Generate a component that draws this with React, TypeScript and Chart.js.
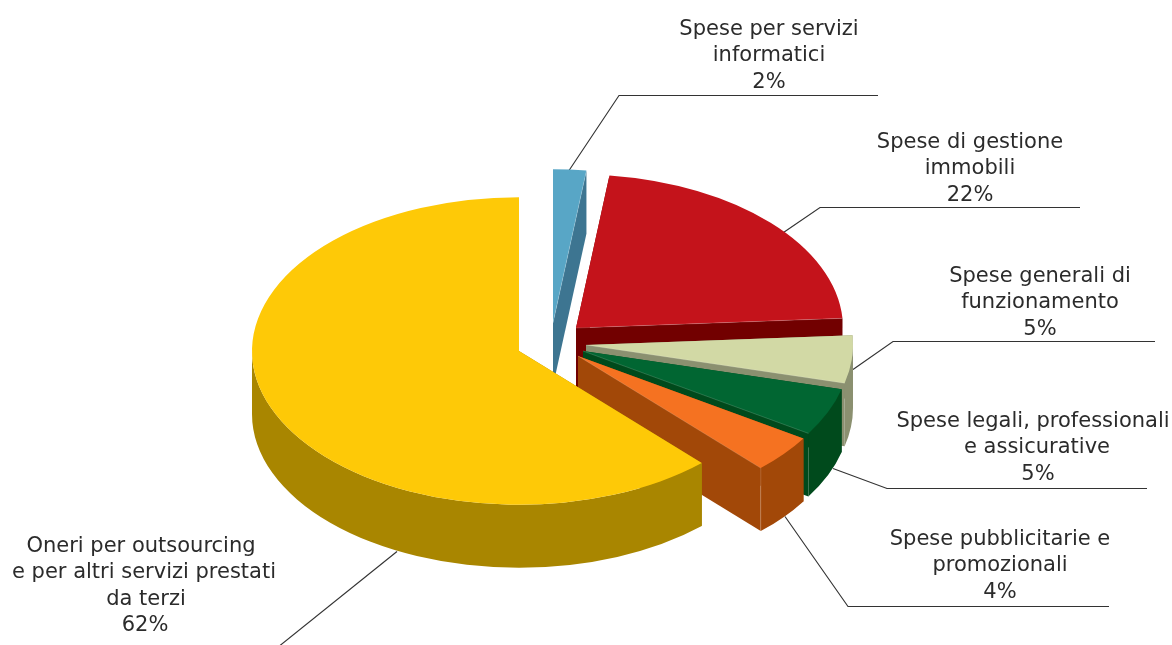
import React, { useEffect, useRef } from "react";
import { Chart, registerables } from "chart.js";

Chart.register(...registerables);

// Cost breakdown, in percent
const sliceValues = [2, 22, 5, 5, 4, 62];
const sliceCaptions = [
  ["Spese per servizi", "informatici"],
  ["Spese di gestione", "immobili"],
  ["Spese generali di", "funzionamento"],
  ["Spese legali, professionali", "e assicurative"],
  ["Spese pubblicitarie e", "promozionali"],
  ["Oneri per outsourcing", "e per altri servizi prestati", "da terzi"],
];
const faceColours = ["#58a6c6", "#c4131b", "#d2d9a5", "#016632", "#f57221", "#fec907"];
const wallColours = ["#3d7591", "#720000", "#8b9070", "#004a1c", "#a24808", "#a98600"];

// Pie geometry: how far each slice is pulled away from the hub, tilt and thickness
const sliceShiftX = [34, 57, 67, 64, 59, 0];
const sliceShiftY = [-28, -23, -6, 0, 5, 0];
const TILT = 0.576;
const DEPTH = 63;

// Caption anchors (centre x, first baseline) and leader polylines
const captionX = [769, 970, 1040, 1033, 1000, 143];
const captionY = [35, 148, 282, 427, 545, 552];
const captionLineNudge = [
  [0, 0, 0],
  [0, 0, 0],
  [0, 0, 0],
  [0, 4, 5],
  [0, 0, 0],
  [-2, 1, 3, 2],
];
const leaders = [
  [[878, 95], [619, 95], [569, 170]],
  [[1080, 207], [820, 207], [782, 233]],
  [[1155, 341], [893, 341], [853, 369]],
  [[1147, 488], [887, 488], [833, 468]],
  [[1109, 606], [848, 606], [785, 516]],
  [[397, 551], [280, 645]],
];

const FONT = '21px "DejaVu Sans"';
const LINE_STEP = 26.3;

const pie3d = {
  id: "pie3d",
  beforeDatasetsDraw(chart: any) {
    const ctx = chart.ctx as CanvasRenderingContext2D;
    const arcs = chart.getDatasetMeta(0).data;

    // Leader lines sit beneath the slices
    ctx.save();
    ctx.strokeStyle = "#333333";
    ctx.lineWidth = 1.15;
    leaders.forEach((pts) => {
      ctx.beginPath();
      pts.forEach(([x, y], i) => {
        if (i === 0) ctx.moveTo(x, y + 0.5);
        else ctx.lineTo(x, y + 0.5);
      });
      ctx.stroke();
    });
    ctx.restore();

    // Clockwise order gives the correct overlap for this pie
    arcs.forEach((arc: any, i: number) => {
      const R = arc.outerRadius;
      const cx = arc.x + sliceShiftX[i];
      const cy = arc.y + sliceShiftY[i];
      const ry = R * TILT;
      const a0 = arc.startAngle;
      const a1 = arc.endAngle;
      const at = (a: number): [number, number] => [cx + R * Math.cos(a), cy + ry * Math.sin(a)];

      ctx.save();
      ctx.fillStyle = wallColours[i];

      // Flat walls along both cut edges
      [a0, a1].forEach((a) => {
        const [ex, ey] = at(a);
        ctx.beginPath();
        ctx.moveTo(cx, cy);
        ctx.lineTo(ex, ey);
        ctx.lineTo(ex, ey + DEPTH);
        ctx.lineTo(cx, cy + DEPTH);
        ctx.closePath();
        ctx.fill();
      });

      // Outer rim: only the part that faces the viewer
      [0, 2 * Math.PI].forEach((turn) => {
        const from = Math.max(a0, turn);
        const to = Math.min(a1, turn + Math.PI);
        if (to <= from) return;
        ctx.beginPath();
        ctx.ellipse(cx, cy, R, ry, 0, from, to);
        ctx.ellipse(cx, cy + DEPTH, R, ry, 0, to, from, true);
        ctx.closePath();
        ctx.fill();
      });
      ctx.restore();

      // Top face: the library's own arc element, squashed by the tilt
      ctx.save();
      ctx.translate(cx, cy);
      ctx.scale(1, TILT);
      ctx.translate(-arc.x, -arc.y);
      arc.draw(ctx);
      ctx.restore();

      // Faint highlight where the closing cut edge meets the wall
      if (i < arcs.length - 1) {
        const [ex, ey] = at(a1);
        ctx.save();
        ctx.strokeStyle = "rgba(255,255,255,0.16)";
        ctx.lineWidth = 1;
        ctx.beginPath();
        ctx.moveTo(cx, cy);
        ctx.lineTo(ex, ey);
        if (i === 4) {
          ctx.moveTo(ex, ey);
          ctx.lineTo(ex, ey + DEPTH);
        }
        ctx.stroke();
        ctx.restore();
      }
    });

    // Captions with their percentages
    ctx.save();
    ctx.font = FONT;
    ctx.fillStyle = "#2b2b2b";
    ctx.textAlign = "center";
    ctx.textBaseline = "alphabetic";
    sliceCaptions.forEach((lines, i) => {
      [...lines, `${sliceValues[i]}%`].forEach((text, j) => {
        ctx.fillText(text, captionX[i] + captionLineNudge[i][j], captionY[i] + j * LINE_STEP);
      });
    });
    ctx.restore();
    return false;
  },
};

export default function App() {
  const ref = useRef<HTMLCanvasElement>(null);
  useEffect(() => {
    document.body.style.margin = "0";
    const chart = new Chart(ref.current!, {
      type: "pie",
      data: {
        labels: sliceCaptions.map((c) => c.join(" ")),
        datasets: [{ data: sliceValues, backgroundColor: faceColours, borderWidth: 0 }],
      },
      options: {
        responsive: false,
        animation: false,
        rotation: 0,
        layout: { padding: { top: 84, bottom: 27, left: 0, right: 134 } },
        plugins: { legend: { display: false }, tooltip: { enabled: false } },
      },
      plugins: [pie3d],
    });
    return () => chart.destroy();
  }, []);
  return <canvas ref={ref} width={1172} height={645} style={{ display: "block" }} />;
}
